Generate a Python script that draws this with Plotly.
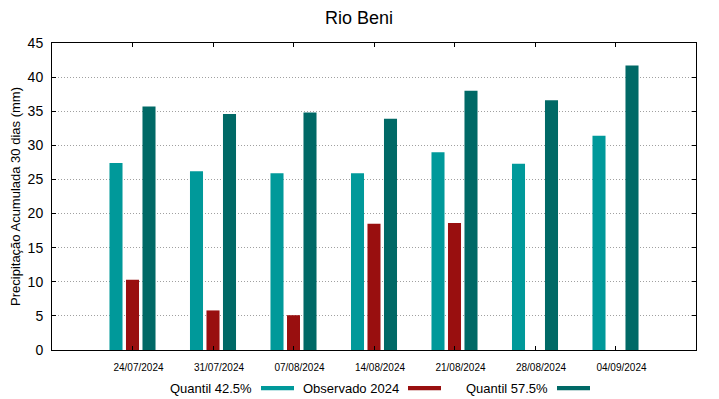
import plotly.graph_objects as go

dates = ["24/07/2024", "31/07/2024", "07/08/2024", "14/08/2024",
         "21/08/2024", "28/08/2024", "04/09/2024"]
q425 = [27.4, 26.2, 25.9, 25.9, 29.0, 27.3, 31.4]
obs2024 = [10.3, 5.8, 5.1, 18.5, 18.6, None, None]
q575 = [35.7, 34.6, 34.8, 33.9, 38.0, 36.6, 41.7]

names = ["Quantil 42.5%", "Observado 2024", "Quantil 57.5%"]
colors = ["#00999a", "#990f0f", "#006966"]

fig = go.Figure()
for name, vals, col in zip(names, [q425, obs2024, q575], colors):
    fig.add_trace(go.Bar(x=dates, y=vals, name=name, marker_color=col,
                         marker_line_width=0, showlegend=False))

font = "Liberation Sans, Arial, sans-serif"
W, H = 711, 391  # page body has an 8px margin
fig.update_layout(
    width=W, height=H,
    margin=dict(l=44, r=23, t=35, b=49, autoexpand=False),
    paper_bgcolor="white", plot_bgcolor="white",
    barmode="group", bargap=0.385, bargroupgap=0.21,
    font=dict(family=font, color="#000000"),
    title=dict(text="Rio Beni", x=(359 - 8) / W, xanchor="center",
               y=1 - 3 / H, yanchor="top", pad=dict(t=0, b=0, l=0, r=0),
               font=dict(size=18, family=font)),
)
fig.update_xaxes(
    type="category", range=[-1, 7], automargin=False,
    showline=True, linecolor="#000000", linewidth=1, mirror="allticks",
    ticks="inside", ticklen=4, tickcolor="#000000",
    tickfont=dict(size=10, family=font), ticklabelshift=6, ticklabelstandoff=8,
    showgrid=False,
)
fig.update_yaxes(
    range=[0, 45], dtick=5, automargin=False,
    showline=True, linecolor="#000000", linewidth=1, mirror="allticks",
    ticks="inside", ticklen=4, tickcolor="#000000",
    tickfont=dict(size=14, family=font), ticklabelstandoff=5,
    showgrid=True, gridcolor="#a0a0a0", griddash="1px,2px", gridwidth=1,
    zeroline=False,
    title=dict(text="Precipitação Acumulada 30 dias (mm)", font=dict(size=13, family=font),
               standoff=8),
)

# legend drawn gnuplot-style: text followed by sample
leg_text_right = [254, 401, 550]
leg_y = -0.124
for name, col, tr in zip(names, colors, leg_text_right):
    xr = (tr - 52) / 644
    fig.add_annotation(text=name, x=xr, y=leg_y, xref="paper", yref="paper",
                       xanchor="right", yanchor="middle", showarrow=False,
                       font=dict(size=13, family=font))
    x0 = (tr + 7 - 52) / 644
    x1 = (tr + 40 - 52) / 644
    fig.add_shape(type="rect", xref="paper", yref="paper",
                  x0=x0, x1=x1, y0=leg_y - 0.007, y1=leg_y + 0.007,
                  fillcolor=col, line=dict(width=0))

fig.write_html("out.html")
